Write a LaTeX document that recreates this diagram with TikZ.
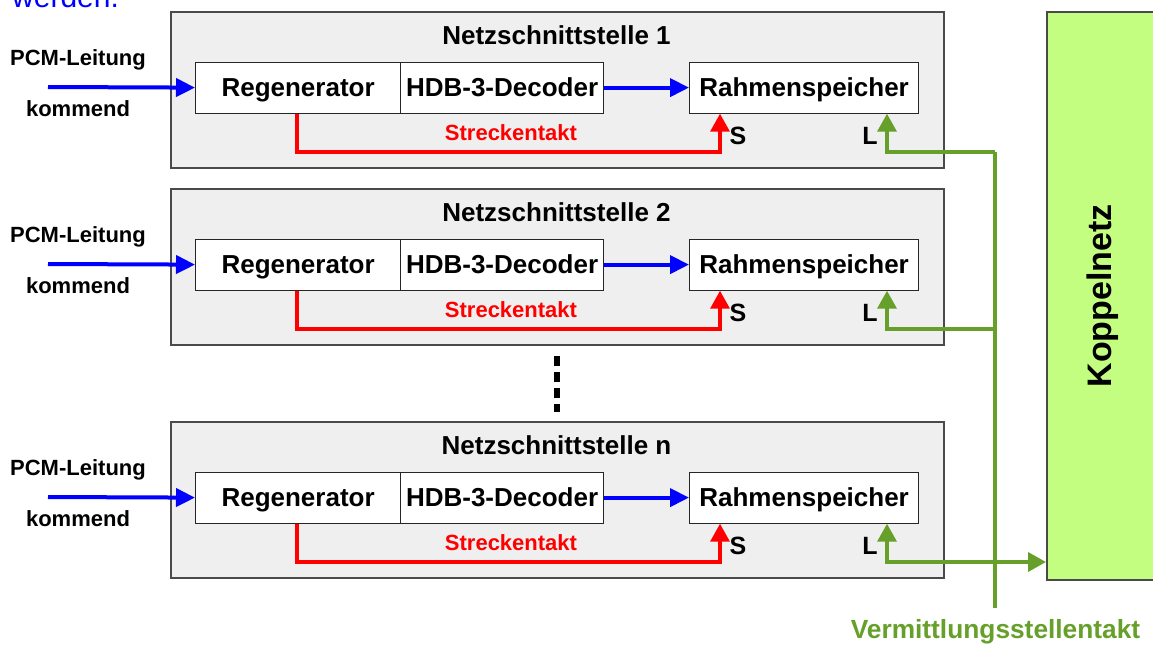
\documentclass[tikz,border=0pt]{standalone}
\usepackage{fontspec}
\setmainfont{Liberation Sans}
\usetikzlibrary{arrows.meta,calc}
\definecolor{gline}{HTML}{66A02A}
\definecolor{kfill}{HTML}{C4FE80}
\definecolor{pfill}{HTML}{EFEFEF}
\definecolor{pdraw}{HTML}{4A4A4A}
\begin{document}
\begin{tikzpicture}[x=1pt,y=-1pt,
  panel/.style={draw=pdraw, line width=1.5pt, fill=pfill, minimum width=773pt, minimum height=156pt, inner sep=0pt, anchor=north west},
  box/.style={draw=black!85, line width=1.2pt, fill=white, minimum height=51pt, inner sep=0pt, text height=18.5pt, text depth=0.5pt, anchor=north west, font=\bfseries\fontsize{26}{30}\selectfont},
  ptitle/.style={font=\bfseries\fontsize{26}{30}\selectfont, inner sep=0pt, anchor=base},
  side/.style={font=\bfseries\fontsize{22}{26}\selectfont, inner sep=0pt, text height=16pt, text depth=0pt},
  sl/.style={font=\bfseries\fontsize{25}{28}\selectfont, inner sep=0pt, text height=18pt, text depth=0pt},
  stakt/.style={font=\bfseries\fontsize{22}{26}\selectfont, text=red, inner sep=0pt, text height=16pt, text depth=0pt},
  barrow/.style={draw=blue, line width=4pt, -{Triangle[length=19pt,width=18pt]}},
  rarrow/.style={draw=red, line width=3.4pt, -{Triangle[length=18pt,width=19pt]}},
  garrow/.style={draw=gline, line width=3.6pt, -{Triangle[length=18pt,width=19pt]}},
  gplain/.style={draw=gline, line width=3.6pt},
  dots/.style={draw=black, line width=6pt, dash pattern=on 10pt off 6pt, shorten <=10pt, shorten >=9pt},
  kbox/.style={draw=pdraw, line width=1.5pt, fill=kfill, minimum width=112pt, minimum height=568pt, inner sep=0pt, anchor=north west, font=\bfseries\fontsize{34}{40}\selectfont}
]
\clip (0,0) rectangle (1153,646);
\node[anchor=base west, text=blue, font=\fontsize{30}{36}\selectfont, inner sep=0pt] (w) at (12,7) {werden.};
\node[kbox] (kn) at (1046,11) {\rotatebox{90}{Koppelnetz}};
\foreach \t/\n in {11/1,188/2,421/n} {
  \node[panel] (p\n) at (170,\t) {};
  \node[ptitle] (t\n) at (556.5,\t+33) {Netzschnittstelle \n};
  \node[box, minimum width=205pt] (reg\n) at (195,\t+50.5) {Regenerator};
  \node[box, minimum width=203pt] (dec\n) at (400,\t+50.5) {HDB-3-Decoder};
  \node[box, minimum width=229pt] (rs\n) at (689,\t+50.5) {Rahmenspeicher};
  \node[side] (pcm\n) at (78,\t+46) {PCM-Leitung};
  \node[side] (km\n) at (78,\t+97) {kommend};
  \coordinate (in\n) at (48,\t+76);
  \draw[barrow] (in\n) -- (reg\n.west);
  \draw[barrow] (dec\n.east) -- (rs\n.west);
  \coordinate (sr\n) at (297,\t+141);
  \draw[rarrow] (reg\n.south -| sr\n) -- (sr\n) -| ([xshift=31pt]rs\n.south west);
  \node[stakt] (st\n) at (511,\t+121) {Streckentakt};
  \node[sl] (s\n) at (738,\t+124) {S};
  \node[sl] (l\n) at (870,\t+124) {L};
  \coordinate (g\n) at (995,\t+141);
  \draw[garrow] (g\n) -| ([xshift=198pt]rs\n.south west);
}
\coordinate (vend) at (995,608);
\draw[gplain] (g1) -- (vend);
\draw[garrow] (gn) -- (gn -| kn.west);
\draw[dots] (p2.south) -- (pn.north);
\node[font=\bfseries\fontsize{26.3}{30}\selectfont, text=gline, inner sep=0pt] (vt) at (995.5,632) {Vermittlungsstellentakt};
\end{tikzpicture}
\end{document}
